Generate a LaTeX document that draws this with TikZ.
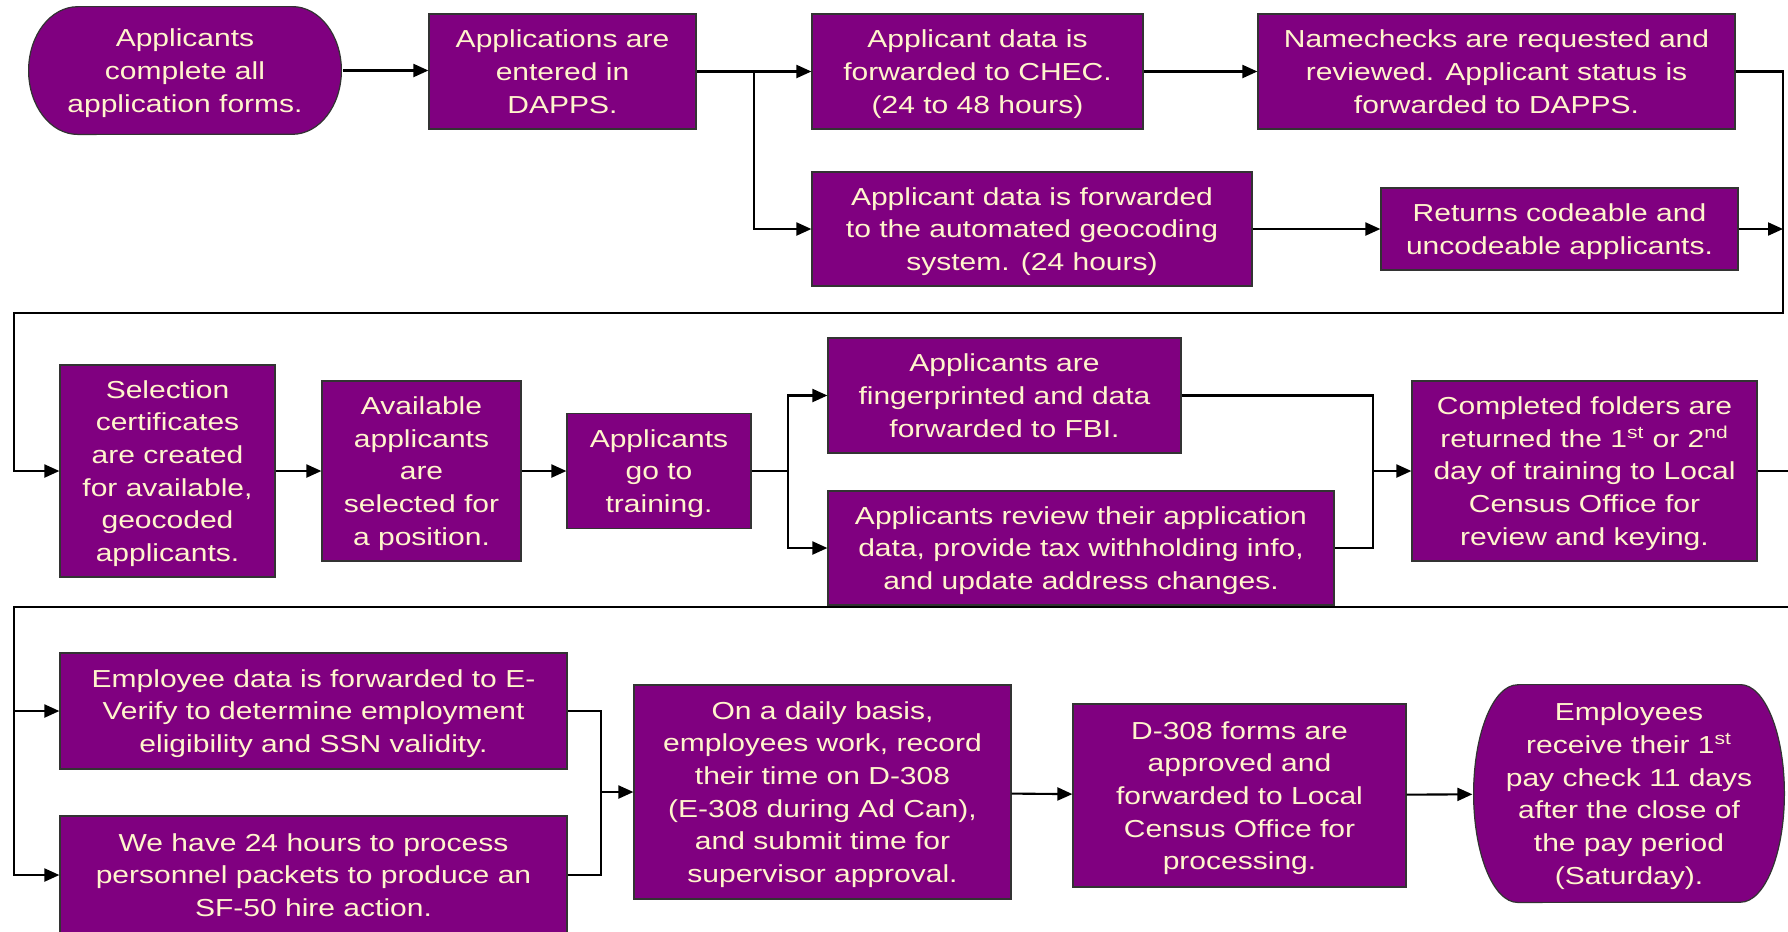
\documentclass[tikz,border=0pt]{standalone}
\usepackage{fontspec}
\setmainfont{Liberation Sans}[FakeStretch=1.22]
\usetikzlibrary{arrows.meta}
\definecolor{censuspurple}{HTML}{800080}
\definecolor{cream}{HTML}{FFF5CC}
\tikzset{
  proc/.style={draw=black!80, line width=0.7pt, fill=censuspurple, text=cream, align=center,
    inner sep=0pt, font=\fontsize{14}{18.6}\selectfont, text depth=-1pt},
  wh/.style 2 args={minimum width=#1*0.02cm, minimum height=#2*0.02cm},
  term/.style n args={3}{proc, draw=none, fill=none, wh={#1}{#2},
    path picture={
      \draw[draw=black!80, line width=0.7pt, fill=censuspurple]
        ([xshift=#3*0.02cm+0.35pt, yshift=-0.35pt]path picture bounding box.north west)
        -- ([xshift=-#3*0.02cm-0.35pt, yshift=-0.35pt]path picture bounding box.north east)
        arc[start angle=90, end angle=-90, x radius=#3*0.02cm, y radius=#2*0.01cm-0.35pt]
        -- ([xshift=#3*0.02cm+0.35pt, yshift=0.35pt]path picture bounding box.south west)
        arc[start angle=270, end angle=90, x radius=#3*0.02cm, y radius=#2*0.01cm-0.35pt]
        -- cycle;
    }},
  arr/.style={-{Triangle[length=3mm, width=2.6mm]}, line width=1.2pt},
  line/.style={line width=1.2pt},
}

\begin{document}
\begin{tikzpicture}[x=0.02cm, y=-0.02cm]
  \clip (0,0) rectangle (1788,931);
  \node[term={314}{129}{49}] (appl) at (185,70.5) {Applicants\\complete all\\application forms.};
  \node[proc, wh={267}{115}] (dapps) at (562.5,71.5) {Applications are\\entered in\\DAPPS.};
  \node[proc, wh={331}{115}] (chec) at (977.5,71.5) {Applicant data is\\forwarded to CHEC.\\(24 to 48 hours)};
  \node[proc, wh={477}{115}] (namecheck) at (1496.5,71.5) {Namechecks are requested and\\reviewed. Applicant status is\\forwarded to DAPPS.};
  \node[proc, wh={440}{114}] (geocode) at (1032,229) {Applicant data is forwarded\\to the automated geocoding\\system. (24 hours)};
  \node[proc, wh={357}{82}] (codeable) at (1559.5,229) {Returns codeable and\\uncodeable applicants.};

  \node[proc, wh={215}{212}] (select) at (167.5,471) {Selection\\certificates\\are created\\for available,\\geocoded\\applicants.};
  \node[proc, wh={199}{180}] (avail) at (421.5,471) {Available\\applicants\\are\\selected for\\a position.};
  \node[proc, wh={184}{115}] (train) at (659,471) {Applicants\\go to\\training.};
  \node[proc, wh={353}{115}] (finger) at (1004.5,395.5) {Applicants are\\fingerprinted and data\\forwarded to FBI.};
  \node[proc, wh={506}{114}] (review) at (1081,548) {Applicants review their application\\data, provide tax withholding info,\\and update address changes.};
  \node[proc, wh={345}{180}] (complete) at (1584.5,471) {Completed folders are\\returned the 1\textsuperscript{st} or 2\textsuperscript{nd}\\day of training to Local\\Census Office for\\review and keying.};

  \node[proc, wh={507}{116}] (everify) at (313.5,711) {Employee data is forwarded to E-\\Verify to determine employment\\eligibility and SSN validity.};
  \node[proc, wh={507}{118}] (packets) at (313.5,875) {We have 24 hours to process\\personnel packets to produce an\\SF-50 hire action.};
  \node[proc, wh={377}{214}] (daily) at (822.5,792) {On a daily basis,\\employees work, record\\their time on D-308\\(E-308 during Ad Can),\\and submit time for\\supervisor approval.};
  \node[proc, wh={333}{183}] (d308) at (1239.5,795.5) {D-308 forms are\\approved and\\forwarded to Local\\Census Office for\\processing.};
  \node[term={312}{219}{44}] (employees) at (1629,793.5) {Employees\\receive their 1\textsuperscript{st}\\pay check 11 days\\after the close of\\the pay period\\(Saturday).};

  \coordinate (split1) at (754,71.5);
  \coordinate (rt1) at (1783,313);
  \coordinate (lf1) at (14,313);
  \coordinate (split2) at (788,471);
  \coordinate (merge2) at (1373,471);
  \coordinate (rt2) at (1800,607);
  \coordinate (lf2) at (14,607);
  \coordinate (merge3) at (601,792);

  \draw[arr] (appl.east) -- (dapps.west |- appl.east);
  \draw[arr] (dapps.east) -- (chec.west);
  \draw[arr] (split1) |- (geocode.west);
  \draw[arr] (chec.east) -- (namecheck.west);
  \draw[arr] (geocode.east) -- (codeable.west);
  \draw[arr] (namecheck.east) -| (rt1) -- (lf1) |- (select.west);
  \draw[arr] (codeable.east) -- (codeable.east -| rt1);
  \draw[arr] (select.east) -- (avail.west);
  \draw[arr] (avail.east) -- (train.west);
  \draw[line] (train.east) -- (split2);
  \draw[arr] (split2) |- (finger.west);
  \draw[arr] (split2) |- (review.west);
  \draw[line] (finger.east) -| (merge2) |- (review.east);
  \draw[arr] (merge2) -- (complete.west);
  \draw[arr] (complete.east) -| (rt2) -- (lf2) |- (packets.west);
  \draw[arr] (everify.west -| lf2) -- (everify.west);
  \draw[line] (everify.east) -| (merge3) |- (packets.east);
  \draw[arr] (merge3) -- (daily.west);
  \draw[arr] (daily) -- (d308);
  \draw[arr] (d308) -- (employees);
\end{tikzpicture}
\end{document}
